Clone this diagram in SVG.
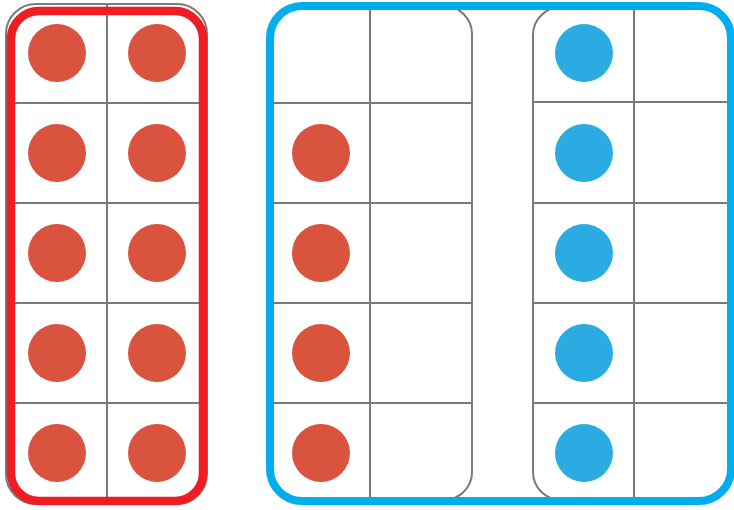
<svg xmlns="http://www.w3.org/2000/svg" width="734" height="510" viewBox="0 0 734 510">
<style>
.frame{fill:none;stroke:#7a7a7a;stroke-width:2}
.grid{stroke:#7a7a7a;stroke-width:2}
.red{fill:#D9533F}
.blue{fill:#2AABE2}
</style>
<defs>
<clipPath id="inBlue"><rect x="270" y="6" width="461" height="495" rx="32"/></clipPath>
</defs>
<rect width="734" height="510" fill="#ffffff"/>
<g id="frame-left">
<rect class="frame" x="6" y="4" width="201" height="500" rx="30"/>
<line class="grid" x1="107" y1="4" x2="107" y2="504"/>
<line class="grid" x1="6" y1="103" x2="207" y2="103"/>
<line class="grid" x1="6" y1="203" x2="207" y2="203"/>
<line class="grid" x1="6" y1="303" x2="207" y2="303"/>
<line class="grid" x1="6" y1="403" x2="207" y2="403"/>
<circle class="red" cx="57" cy="53" r="29"/><circle class="red" cx="157" cy="53" r="29"/>
<circle class="red" cx="57" cy="153" r="29"/><circle class="red" cx="157" cy="153" r="29"/>
<circle class="red" cx="57" cy="253" r="29"/><circle class="red" cx="157" cy="253" r="29"/>
<circle class="red" cx="57" cy="353" r="29"/><circle class="red" cx="157" cy="353" r="29"/>
<circle class="red" cx="57" cy="453" r="29"/><circle class="red" cx="157" cy="453" r="29"/>
</g>
<g id="frame-middle">
<rect class="frame" x="270" y="6" width="202" height="494" rx="28"/>
<line class="grid" x1="370" y1="6" x2="370" y2="500"/>
<line class="grid" x1="270" y1="103" x2="472" y2="103"/>
<line class="grid" x1="270" y1="203" x2="472" y2="203"/>
<line class="grid" x1="270" y1="303" x2="472" y2="303"/>
<line class="grid" x1="270" y1="403" x2="472" y2="403"/>
<circle class="red" cx="321" cy="153" r="29"/>
<circle class="red" cx="321" cy="253" r="29"/>
<circle class="red" cx="321" cy="353" r="29"/>
<circle class="red" cx="321" cy="453" r="29"/>
</g>
<g id="frame-right" clip-path="url(#inBlue)">
<rect class="frame" x="533" y="7" width="260" height="493" rx="28"/>
<line class="grid" x1="634" y1="7" x2="634" y2="500"/>
<line class="grid" x1="533" y1="102" x2="734" y2="102"/>
<line class="grid" x1="533" y1="203" x2="734" y2="203"/>
<line class="grid" x1="533" y1="303" x2="734" y2="303"/>
<line class="grid" x1="533" y1="403" x2="734" y2="403"/>
<circle class="blue" cx="584" cy="53" r="29"/>
<circle class="blue" cx="584" cy="153" r="29"/>
<circle class="blue" cx="584" cy="253" r="29"/>
<circle class="blue" cx="584" cy="353" r="29"/>
<circle class="blue" cx="584" cy="453" r="29"/>
</g>
<g id="group-red">
<rect x="11" y="11" width="192" height="490" rx="28" fill="none" stroke="#EE1C25" stroke-width="8.5"/>
</g>
<g id="group-blue">
<rect x="270" y="6" width="461" height="495" rx="32" fill="none" stroke="#00AEEF" stroke-width="8"/>
</g>
<g id="connectors"/>
</svg>
